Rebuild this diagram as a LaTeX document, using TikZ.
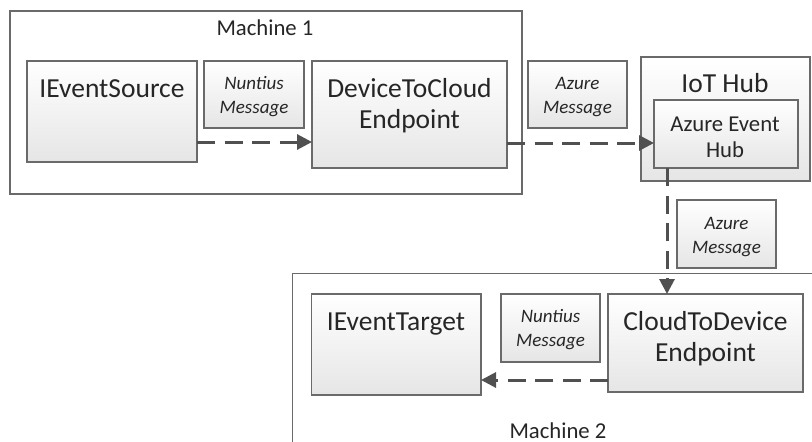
\documentclass[tikz,border=0pt]{standalone}
\usepackage{fontspec}
\setmainfont{Carlito}
\usetikzlibrary{arrows.meta}
\definecolor{bordergray}{HTML}{6A6A6A}
\definecolor{arrowgray}{HTML}{505050}
\definecolor{txt}{HTML}{262626}
\tikzset{
  container/.style={draw=bordergray, line width=1.7pt, fill=white, inner sep=0pt, outer sep=0pt},
  box/.style={draw=bordergray, line width=1.7pt, top color=white, bottom color=black!10, inner sep=0pt, outer sep=0pt},
  big/.style={anchor=base, text=txt, inner sep=0pt, font=\fontsize{27.5}{30}\selectfont},
  mid/.style={anchor=base, text=txt, inner sep=0pt, font=\fontsize{22.7}{26}\selectfont},
  msg/.style={anchor=base, text=txt, inner sep=0pt, font=\fontsize{19}{22}\selectfont\itshape},
  flow/.style={draw=arrowgray, line width=3pt, dash pattern=on 18pt off 9.5pt, -{Triangle[length=15pt,width=15pt]}}
}
\begin{document}
\begin{tikzpicture}[x=1pt,y=-1pt]
\clip (0,0) rectangle (812,442);
% helper coordinates
\coordinate (r1) at (0,142);
\coordinate (r2) at (0,143);
\coordinate (r3) at (0,380);
\coordinate (c1) at (667,0);

% Machine 1
\node[container, minimum width=512pt, minimum height=183pt] (m1) at (266,102.5) {};
\node[mid] (m1t) at (265,35) {Machine 1};
\node[box, minimum width=170pt, minimum height=101pt] (src) at (112,111.5) {};
\node[big] (srct) at (112,97) {IEventSource};
\node[box, minimum width=100pt, minimum height=67pt] (nm1) at (254,94.5) {};
\node[msg] (nm1a) at (254,89) {Nuntius};
\node[msg] (nm1b) at (254,113) {Message};
\node[box, minimum width=195pt, minimum height=107pt] (d2c) at (409.5,114.5) {};
\node[big] (d2ca) at (409.5,97) {DeviceToCloud};
\node[big] (d2cb) at (409.5,128) {Endpoint};

% Azure message 1
\node[box, minimum width=99pt, minimum height=67pt] (am1) at (577.5,94.5) {};
\node[msg] (am1a) at (577.5,89) {Azure};
\node[msg] (am1b) at (577.5,113) {Message};

% IoT Hub
\node[box, minimum width=169pt, minimum height=124pt] (iot) at (725.5,119) {};
\node[big] (iott) at (725,92) {IoT Hub};
\node[box, minimum width=144pt, minimum height=68pt] (eh) at (726,134) {};
\node[mid] (eha) at (725,131) {Azure Event};
\node[mid] (ehb) at (725,157) {Hub};

% Azure message 2
\node[box, minimum width=99pt, minimum height=68pt] (am2) at (726.5,234) {};
\node[msg] (am2a) at (726.5,229) {Azure};
\node[msg] (am2b) at (726.5,253) {Message};

% Machine 2
\node[container, minimum width=560pt, minimum height=220pt, anchor=north west] (m2) at (292.5,273.5) {};
\node[mid] (m2t) at (558,438) {Machine 2};
\node[box, minimum width=169.5pt, minimum height=101pt] (tgt) at (396.25,344.5) {};
\node[big] (tgtt) at (396,330) {IEventTarget};
\node[box, minimum width=99pt, minimum height=68pt] (nm2) at (550.5,328) {};
\node[msg] (nm2a) at (550.5,322) {Nuntius};
\node[msg] (nm2b) at (550.5,346) {Message};
\node[box, minimum width=195pt, minimum height=98pt] (c2d) at (705.5,343) {};
\node[big] (c2da) at (705.5,330) {CloudToDevice};
\node[big] (c2db) at (705.5,361) {Endpoint};

% connectors
\draw[flow] (src.east |- r1) -- (d2c.west |- r1);
\draw[flow] (d2c.east |- r2) -- (eh.west |- r2);
\draw[flow] (eh.south -| c1) -- (c2d.north -| c1);
\draw[flow] (c2d.west |- r3) -- (tgt.east |- r3);
\end{tikzpicture}
\end{document}
